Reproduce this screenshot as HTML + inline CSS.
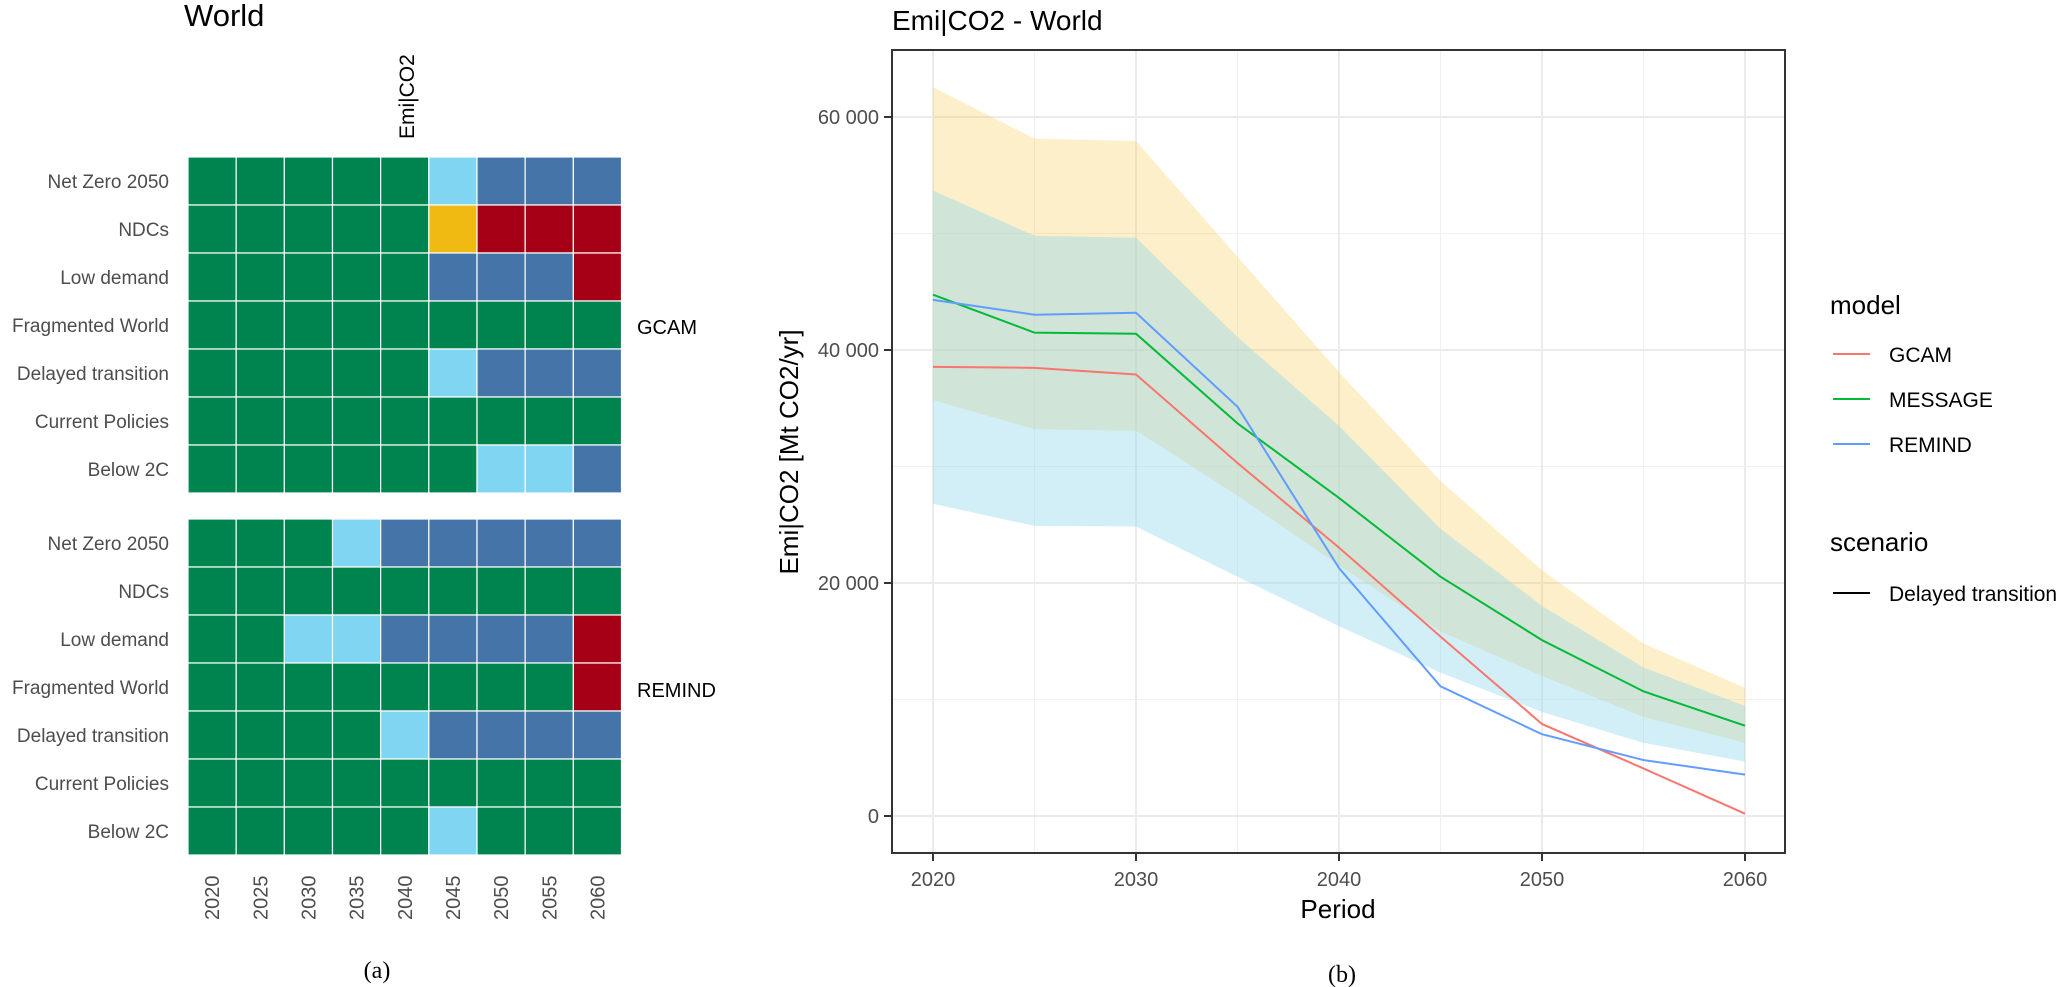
<!DOCTYPE html>
<html><head><meta charset="utf-8"><style>
html,body{margin:0;padding:0;background:#fff;width:2067px;height:987px;overflow:hidden}
svg text{font-family:"Liberation Sans",sans-serif}
</style></head><body>
<svg id="fig" width="2067" height="987" viewBox="0 0 2067 987" xmlns="http://www.w3.org/2000/svg">
<g id="heat">
<text x="184" y="26" font-size="31" fill="#000">World</text>
<text transform="translate(414,139) rotate(-90)" font-size="21" fill="#000">Emi|CO2</text>
<text x="637" y="697" font-size="20" fill="#000">REMIND</text>
<text x="637" y="334" font-size="20" fill="#000">GCAM</text>
<text x="377" y="978" font-size="24" text-anchor="middle" style="font-family:'Liberation Serif',serif">(a)</text>
</g>
<g id="line">
<text x="892" y="30" font-size="28" fill="#000">Emi|CO2 - World</text>
<rect x="892" y="50" width="893" height="803" fill="#fff"/>
<g id="grid"></g>
<g id="bands"></g>
<g id="lines"></g>
<rect x="892" y="50" width="893" height="803" fill="none" stroke="#333" stroke-width="2"/>
<g id="axes"></g>
<text x="1338" y="918" font-size="26" text-anchor="middle" fill="#000">Period</text>
<text transform="translate(798,452) rotate(-90)" font-size="26" text-anchor="middle" fill="#000">Emi|CO2 [Mt CO2/yr]</text>
<text x="1342" y="982" font-size="24" text-anchor="middle" style="font-family:'Liberation Serif',serif">(b)</text>
<g>
<text x="1830" y="314" font-size="26" fill="#000">model</text>
<line x1="1833" y1="354" x2="1870" y2="354" stroke="#F8766D" stroke-width="2"/>
<text x="1889" y="362" font-size="21">GCAM</text>
<line x1="1833" y1="399" x2="1870" y2="399" stroke="#00BA38" stroke-width="2"/>
<text x="1889" y="407" font-size="21">MESSAGE</text>
<line x1="1833" y1="444" x2="1870" y2="444" stroke="#619CFF" stroke-width="2"/>
<text x="1889" y="452" font-size="21">REMIND</text>
<text x="1830" y="551" font-size="26">scenario</text>
<line x1="1833" y1="593" x2="1870" y2="593" stroke="#000" stroke-width="2"/>
<text x="1889" y="601" font-size="21">Delayed transition</text>
</g>
</g>
</svg>
<script>
// Heatmap data
const heatYears = ["2020","2025","2030","2035","2040","2045","2050","2055","2060"];
const heatScenarios = ["Net Zero 2050","NDCs","Low demand","Fragmented World","Delayed transition","Current Policies","Below 2C"];
const heatGCAM = [
 ["g","g","g","g","g","l","b","b","b"],
 ["g","g","g","g","g","y","r","r","r"],
 ["g","g","g","g","g","b","b","b","r"],
 ["g","g","g","g","g","g","g","g","g"],
 ["g","g","g","g","g","l","b","b","b"],
 ["g","g","g","g","g","g","g","g","g"],
 ["g","g","g","g","g","g","l","l","b"]
];
const heatREMIND = [
 ["g","g","g","l","b","b","b","b","b"],
 ["g","g","g","g","g","g","g","g","g"],
 ["g","g","l","l","b","b","b","b","r"],
 ["g","g","g","g","g","g","g","g","r"],
 ["g","g","g","g","l","b","b","b","b"],
 ["g","g","g","g","g","g","g","g","g"],
 ["g","g","g","g","g","l","g","g","g"]
];
// Line chart data
const years = [2020,2025,2030,2035,2040,2045,2050,2055,2060];
const gcam = [38550,38470,37900,30300,23040,15400,7900,4080,200];
const message = [44750,41490,41400,33700,27300,20540,15100,10700,7750];
const remind = [44300,43030,43200,35130,21290,11130,7020,4800,3550];
const yellowHigh = [62550,58140,57940,48000,38100,28760,21100,14800,11000];
const yellowLow = [35700,33200,33070,27500,21500,15840,12020,8500,6280];
const blueHigh = [53680,49810,49640,41100,33500,24650,18040,12750,9440];
const blueLow = [26800,24900,24850,20540,16300,12300,8930,6280,4670];
const yTicks = [0,20000,40000,60000];
const yTickLabels = ["0","20 000","40 000","60 000"];
const xTicks = [2020,2030,2040,2050,2060];

const NS="http://www.w3.org/2000/svg";
function mk(tag,attrs,parent){const e=document.createElementNS(NS,tag);for(const k in attrs)e.setAttribute(k,attrs[k]);parent.appendChild(e);return e;}
const colors={g:"#00844f",l:"#7fd5f2",b:"#4575a8",r:"#a50016",y:"#f0ba12"};
const heat=document.getElementById("heat");
const hx0=188, cw=(621.5-188)/9, rh=48;
function drawHeat(data,top){
  data.forEach((row,i)=>{
    const lab=mk("text",{x:169,y:top+i*rh+rh/2+7,"font-size":19,"text-anchor":"end",fill:"#4d4d4d"},heat);
    lab.textContent=heatScenarios[i];
    
    
    row.forEach((c,j)=>{
      const r=mk("rect",{x:hx0+j*cw,y:top+i*rh,width:cw,height:rh,fill:colors[c],stroke:"#fff","stroke-width":1.2},heat);
      
      
    });
  });
}
drawHeat(heatGCAM,157);
drawHeat(heatREMIND,519);
heatYears.forEach((y,j)=>{
  const t=mk("text",{transform:`translate(${hx0+j*cw+cw/2+7},920) rotate(-90)`,"font-size":20,fill:"#4d4d4d"},heat);
  t.textContent=y;
  
  
});

// line chart
const X=v=>933+(v-2020)*20.3;
const Y=v=>816-v/20000*233;
const grid=document.getElementById("grid"), axes=document.getElementById("axes");
for(let v=2025;v<=2055;v+=10){const l=mk("line",{x1:X(v),x2:X(v),y1:50,y2:853,stroke:"#f0f0f0","stroke-width":1},grid);}
[10000,30000,50000].forEach(v=>{const l=mk("line",{x1:892,x2:1785,y1:Y(v),y2:Y(v),stroke:"#f0f0f0","stroke-width":1},grid);});
xTicks.forEach(v=>{
  const l=mk("line",{x1:X(v),x2:X(v),y1:50,y2:853,stroke:"#ebebeb","stroke-width":2},grid);
  
  
  const t=mk("line",{x1:X(v),x2:X(v),y1:853,y2:861,stroke:"#333","stroke-width":2},axes);
  
  
  const tx=mk("text",{x:X(v),y:886,"font-size":20,"text-anchor":"middle",fill:"#4d4d4d"},axes);
  tx.textContent=String(v);
  
  
});
yTicks.forEach((v,i)=>{
  const l=mk("line",{x1:892,x2:1785,y1:Y(v),y2:Y(v),stroke:"#ebebeb","stroke-width":2},grid);
  
  
  const t=mk("line",{x1:884,x2:892,y1:Y(v),y2:Y(v),stroke:"#333","stroke-width":2},axes);
  
  
  const tx=mk("text",{x:879,y:Y(v)+7,"font-size":20,"text-anchor":"end",fill:"#4d4d4d"},axes);
  tx.textContent=yTickLabels[i];
  
  
});
function bandPath(hi,lo){
  let d="";
  years.forEach((y,i)=>{d+=(i?"L":"M")+X(y)+","+Y(hi[i]);});
  for(let i=years.length-1;i>=0;i--)d+="L"+X(years[i])+","+Y(lo[i]);
  return d+"Z";
}
const bands=document.getElementById("bands");
const yb=mk("path",{d:bandPath(yellowHigh,yellowLow),fill:"rgb(245,202,75)","fill-opacity":0.3},bands);


const bb=mk("path",{d:bandPath(blueHigh,blueLow),fill:"rgb(142,215,237)","fill-opacity":0.4},bands);


const lines=document.getElementById("lines");
function drawLine(vals,color,name){
  const pts=years.map((y,i)=>X(y)+","+Y(vals[i])).join(" ");
  const p=mk("polyline",{points:pts,fill:"none",stroke:color,"stroke-width":2},lines);
  
  
}
drawLine(gcam,"#F8766D","line-gcam");
drawLine(message,"#00BA38","line-message");
drawLine(remind,"#619CFF","line-remind");
</script>
</body></html>
